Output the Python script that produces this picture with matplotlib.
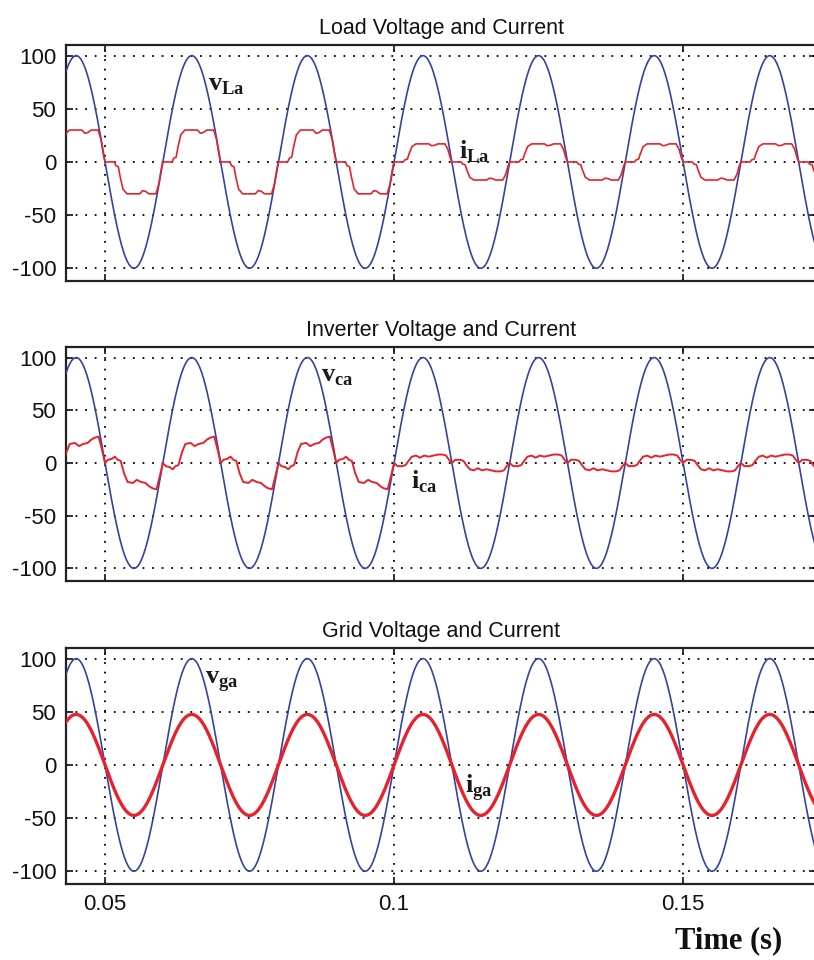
import numpy as np
import matplotlib
matplotlib.use("Agg")
import matplotlib.pyplot as plt

plt.rcParams['font.family'] = ['Liberation Sans', 'DejaVu Sans']
plt.rcParams['mathtext.fontset'] = 'custom'
plt.rcParams['mathtext.rm'] = 'Liberation Serif'
plt.rcParams['mathtext.bf'] = 'Liberation Serif:bold'
plt.rcParams['axes.unicode_minus'] = False

# ---- values ----
f_grid = 50.0          # Hz, one period = 0.02 s
v_peak = 100.0         # load / inverter / grid voltage peak
ig_peak = 47.5         # grid current peak
t_first, t_last = 0.04, 0.18
t_change = 0.1         # load change instant

# load current, one half cycle after a voltage zero crossing (offset s, fraction of peak)
load_half_t = [0, 0.0016, 0.0019, 0.0023, 0.0026, 0.0031, 0.0038, 0.0060, 0.0065,
               0.0070, 0.0076, 0.0088, 0.0093, 0.0097, 0.0100]
load_half_i = [0, 0, 0.12, 0.15, 0.45, 0.85, 1.0, 1.0, 0.9,
               0.92, 1.0, 1.0, 0.7, 0.25, 0]
load_peak_before = 30.0
load_peak_after = 17.0

# inverter current, one half cycle (offset s, amps) before and after the change
inv_before_t = [0, 0.0005, 0.0012, 0.0017, 0.0022, 0.0027, 0.0033, 0.0039, 0.0048,
                0.0055, 0.0062, 0.0070, 0.0076, 0.0082, 0.0089, 0.0095, 0.0100]
inv_before_i = [0, -3, -4, -6, -3, -2, 10, 18, 19,
                16, 18, 19, 22, 24, 25, 12, 0]
inv_after_t = [0, 0.0006, 0.0014, 0.0020, 0.0025, 0.0031, 0.0038, 0.0045, 0.0052,
               0.0060, 0.0068, 0.0076, 0.0084, 0.0090, 0.0095, 0.0100]
inv_after_i = [0, -3, -3, -2, 2, 6, 7, 5, 7,
               6, 7, 8, 8, 7, 3, 0]

titles = ["Load Voltage and Current", "Inverter Voltage and Current", "Grid Voltage and Current"]
x_ticks = [0.05, 0.1, 0.15]
x_tick_labels = ["0.05", "0.1", "0.15"]
y_ticks = [-100, -50, 0, 50, 100]
x_range = (0.04325, 0.1730)
y_range = (-112, 110)

# label text and anchor (time, value)
labels = [
    [(r"$\mathbf{v}_{\mathbf{La}}$", 0.0678, 67), (r"$\mathbf{i}_{\mathbf{La}}$", 0.1112, 3)],
    [(r"$\mathbf{v}_{\mathbf{ca}}$", 0.0874, 77), (r"$\mathbf{i}_{\mathbf{ca}}$", 0.1029, -24)],
    [(r"$\mathbf{v}_{\mathbf{ga}}$", 0.0673, 77), (r"$\mathbf{i}_{\mathbf{ga}}$", 0.1123, -26)],
]


def half_cycle_wave(tpl_before, tpl_after):
    # repeat the half-cycle shapes, sign follows the voltage half cycle
    half = 0.5 / f_grid
    ts, vs = [], []
    k = int(np.floor(t_first / half))
    while k * half < t_last:
        t0 = k * half
        sign = 1 if k % 2 == 0 else -1
        tt, ii, scale = tpl_before if t0 < t_change - 1e-9 else tpl_after
        for j, (a, b) in enumerate(zip(tt, ii)):
            if j == 0 and ts:
                continue
            ts.append(t0 + a)
            vs.append(sign * b * scale)
        k += 1
    return np.array(ts), np.array(vs)


t = np.arange(t_first, t_last, 2e-5)
v = v_peak * np.sin(2 * np.pi * f_grid * t)

tl, il = half_cycle_wave((load_half_t, load_half_i, load_peak_before),
                         (load_half_t, load_half_i, load_peak_after))
tc, ic = half_cycle_wave((inv_before_t, inv_before_i, 1.0),
                         (inv_after_t, inv_after_i, 1.0))
ig = ig_peak * np.sin(2 * np.pi * f_grid * t)

currents = [(tl, il, 1.2), (tc, ic, 1.4), (t, ig, 2.4)]

blue = '#3344a0'
red = '#e8222c'

fig = plt.figure(figsize=(8.14, 9.6), dpi=100)
boxes = [(0.0811, 0.7073, 0.9214, 0.2458),
         (0.0811, 0.3948, 0.9214, 0.2437),
         (0.0811, 0.0792, 0.9214, 0.2458)]

for n, box in enumerate(boxes):
    ax = fig.add_axes(box)
    ax.plot(t, v, color=blue, lw=1.2, zorder=3)
    tx, ix, lw = currents[n]
    ax.plot(tx, ix, color=red, lw=lw, zorder=4)
    ax.set_xlim(*x_range)
    ax.set_ylim(*y_range)
    ax.set_xticks(x_ticks)
    ax.set_yticks(y_ticks)
    if n == 2:
        ax.set_xticklabels(x_tick_labels)
    else:
        ax.set_xticklabels([])
    ax.tick_params(direction='in', length=5, width=1.2, top=True, right=True,
                   labelsize=16, pad=7, colors='#111111')
    ax.grid(True, color='k', lw=1.3, linestyle=(0, (1, 4.3)))
    ax.set_axisbelow(True)
    for sp in ax.spines.values():
        sp.set_linewidth(1.6)
        sp.set_color('#222222')
    ax.set_title(titles[n], fontsize=15.5, pad=8, color='#111111')
    for txt, xx, yy in labels[n]:
        ax.text(xx, yy, txt, fontsize=19, color='#1a1a1a', va='baseline', ha='left', zorder=5)

fig.text(729 / 814, 1 - 941 / 960, "Time (s)", fontfamily='Liberation Serif',
         fontweight='bold', fontsize=22, ha='center', va='center', color='#111111')

fig.savefig("out.png", dpi=100)
